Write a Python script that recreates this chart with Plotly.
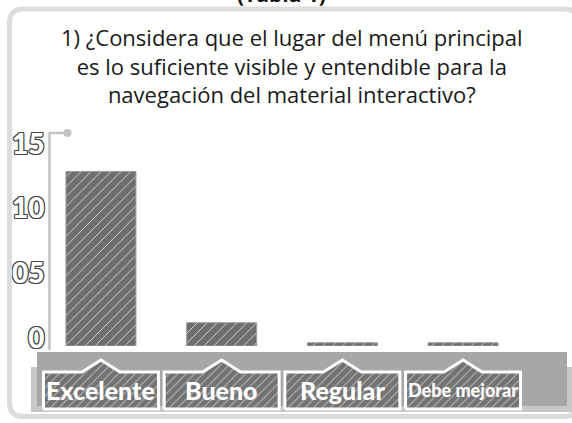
import plotly.graph_objects as go

# ---- data -------------------------------------------------------------
categories = ["Excelente", "Bueno", "Regular", "Debe mejorar"]
responses = [13.5, 1.8, 0.25, 0.25]
tick_values = [0, 5, 10, 15]
tick_labels = ["0", "05", "10", "15"]
header = "(Tabla 1)"
question_lines = [
    "1) ¿Considera que el lugar del menú principal",
    "es lo suficiente visible y entendible para la",
    "navegación del material interactivo?",
]

# ---- canvas geometry (pixels) -----------------------------------------
W, H = 572, 423
plot_left, plot_right = 40.6, 523.4
plot_top, plot_bottom = 133, 346
y_max = 16.47

HEAVY = "Lato, Liberation Sans, sans-serif"
HATCH_BG = "#6e6e6e"
HATCH_FG = "#d2d2d2"

fig = go.Figure()

fig.add_trace(go.Bar(
    x=categories, y=responses, width=0.58,
    marker=dict(
        color=HATCH_BG,
        line=dict(color="#9c9c9c", width=1),
        pattern=dict(shape="/", bgcolor=HATCH_BG, fgcolor=HATCH_FG,
                     size=7, solidity=0.14, fillmode="replace"),
    ),
    hoverinfo="skip",
))

# category tabs along the bottom band, one per category
cat_w = (plot_right - plot_left) / len(categories)
tab_x, tab_y = [], []
for i, _ in enumerate(categories):
    c = plot_left + (i + 0.5) * cat_w
    half, tip = 57.5, 19
    tab_x += [c - half, c - half, c - tip, c, c + tip, c + half, c + half, c - half, None]
    tab_y += [409, 372, 372, 360, 372, 372, 409, 409, None]

fig.add_trace(go.Scatter(
    x=tab_x, y=tab_y, xaxis="x2", yaxis="y2", mode="lines",
    fill="toself", line=dict(color="white", width=3),
    fillcolor="#727272",
    fillpattern=dict(shape="/", bgcolor="#727272", fgcolor="#b8b8b8",
                     size=6, solidity=0.18, fillmode="replace"),
    hoverinfo="skip",
))

shapes = []
# rounded outer panel
x0, x1, y0, y1, r = 9.5, 578, 9, 416.5, 14
panel = (f"M {x0+r},{y0} L {x1-r},{y0} Q {x1},{y0} {x1},{y0+r} "
         f"L {x1},{y1-r} Q {x1},{y1} {x1-r},{y1} L {x0+r},{y1} "
         f"Q {x0},{y1} {x0},{y1-r} L {x0},{y0+r} Q {x0},{y0} {x0+r},{y0} Z")
shapes.append(dict(type="path", path=panel, xref="x2", yref="y2",
                   line=dict(color="#dcdcdc", width=5), fillcolor="rgba(0,0,0,0)",
                   layer="below"))
# bottom band: lighter back layer and darker front layer
shapes.append(dict(type="rect", xref="x2", yref="y2", x0=31, x1=572, y0=367, y1=412,
                   fillcolor="#c7c7c7", line=dict(width=0), layer="below"))
shapes.append(dict(type="rect", xref="x2", yref="y2", x0=37, x1=567, y0=352, y1=406,
                   fillcolor="#a7a7a9", line=dict(width=0), layer="below"))
# axis line with hook and dot
shapes.append(dict(type="path", xref="x2", yref="y2",
                   path="M 49.5,350 L 49.5,133 L 67,133",
                   line=dict(color="#c3c3c3", width=2.5), layer="below"))
shapes.append(dict(type="circle", xref="x2", yref="y2", x0=63.5, x1=71.5, y0=129, y1=137,
                   fillcolor="#c3c3c3", line=dict(width=0), layer="below"))

annotations = []
annotations.append(dict(text=f"<b>{header}</b>", xref="x2", yref="y2", x=281, y=10,
                        xanchor="center", yanchor="bottom", showarrow=False,
                        font=dict(family="Open Sans, sans-serif", size=21, color="#111111")))
annotations.append(dict(text="<br>".join(question_lines), xref="x2", yref="y2",
                        x=292, y=65, xanchor="center", yanchor="middle", showarrow=False,
                        align="center",
                        font=dict(family="Open Sans, sans-serif", size=22,
                                  color="#1a1a1a")))
for i, cat in enumerate(categories):
    annotations.append(dict(text=cat, xref="x", yref="y2", x=cat, y=390,
                            xanchor="center", yanchor="middle", showarrow=False,
                            font=dict(family=HEAVY, weight=900,
                                      size=18 if len(cat) > 10 else 25, color="white")))

outline = ",".join(f"{dx}px {dy}px 0 #444444" for dx, dy in
                   [(-1, -1), (1, -1), (-1, 1), (1, 1), (0, 1), (0, -1), (1, 0), (-1, 0)])

fig.update_layout(
    width=W, height=H,
    margin=dict(l=0, r=0, t=0, b=0),
    paper_bgcolor="white", plot_bgcolor="rgba(0,0,0,0)",
    showlegend=False,
    xaxis=dict(domain=[plot_left / W, plot_right / W], range=[-0.5, 3.5],
               showticklabels=False, showgrid=False, zeroline=False, showline=False,
               fixedrange=True),
    yaxis=dict(domain=[1 - plot_bottom / H, 1 - plot_top / H], range=[0, y_max],
               anchor="free", position=49.5 / W,
               tickvals=tick_values, ticktext=tick_labels, ticks="",
               ticklabelshift=-8, ticklabelstandoff=5,
               tickfont=dict(family=HEAVY, weight=900, size=28, color="white",
                             shadow=outline),
               showgrid=False, zeroline=False, showline=False, automargin=False,
               fixedrange=True),
    xaxis2=dict(domain=[0, 1], range=[0, W], anchor="y2", visible=False, fixedrange=True),
    yaxis2=dict(domain=[0, 1], range=[H, 0], anchor="x2", visible=False, fixedrange=True),
    shapes=shapes,
    annotations=annotations,
)

fig.write_html("out.html")
